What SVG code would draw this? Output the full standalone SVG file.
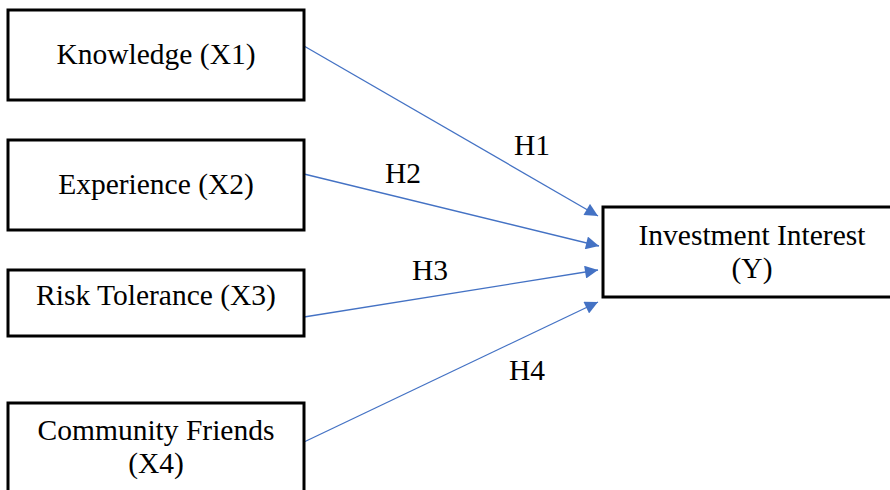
<svg xmlns="http://www.w3.org/2000/svg" width="890" height="490" viewBox="0 0 890 490">
<style>
.box{fill:#fff;stroke:#000;stroke-width:3}
.t{font-family:"Liberation Serif","Times New Roman",serif;font-size:29.5px;fill:#000;text-anchor:middle}
.c{stroke:#4472C4;stroke-width:1.3;fill:none;marker-end:url(#ah)}
</style>
<defs>
<marker id="ah" viewBox="0 0 10 10" refX="10" refY="5" markerWidth="14" markerHeight="13" markerUnits="userSpaceOnUse" orient="auto">
<path d="M0,0 L10,5 L0,10 z" fill="#4472C4"/>
</marker>
</defs>
<rect width="890" height="490" fill="#fff"/>
<g id="connectors">
<line class="c" x1="304" y1="46" x2="598" y2="216"/>
<line class="c" x1="304" y1="174" x2="599" y2="246"/>
<line class="c" x1="304" y1="317" x2="598" y2="270"/>
<line class="c" x1="304" y1="442" x2="598" y2="302"/>
<text class="t" x="532" y="155">H1</text>
<text class="t" x="403" y="183">H2</text>
<text class="t" x="430" y="280">H3</text>
<text class="t" x="527" y="380">H4</text>
</g>
<g id="x1"><rect class="box" x="8" y="10" width="296" height="90"/><text class="t" x="156" y="64">Knowledge (X1)</text></g>
<g id="x2"><rect class="box" x="8" y="140" width="296" height="90"/><text class="t" x="156" y="194">Experience (X2)</text></g>
<g id="x3"><rect class="box" x="8" y="270" width="296" height="66"/><text class="t" x="156" y="305">Risk Tolerance (X3)</text></g>
<g id="x4"><rect class="box" x="8" y="403" width="296" height="100"/><text class="t" x="156" y="440">Community Friends</text><text class="t" x="156" y="473">(X4)</text></g>
<g id="y"><rect class="box" x="603" y="207" width="300" height="90"/><text class="t" x="752" y="245">Investment Interest</text><text class="t" x="752" y="278">(Y)</text></g>
</svg>
